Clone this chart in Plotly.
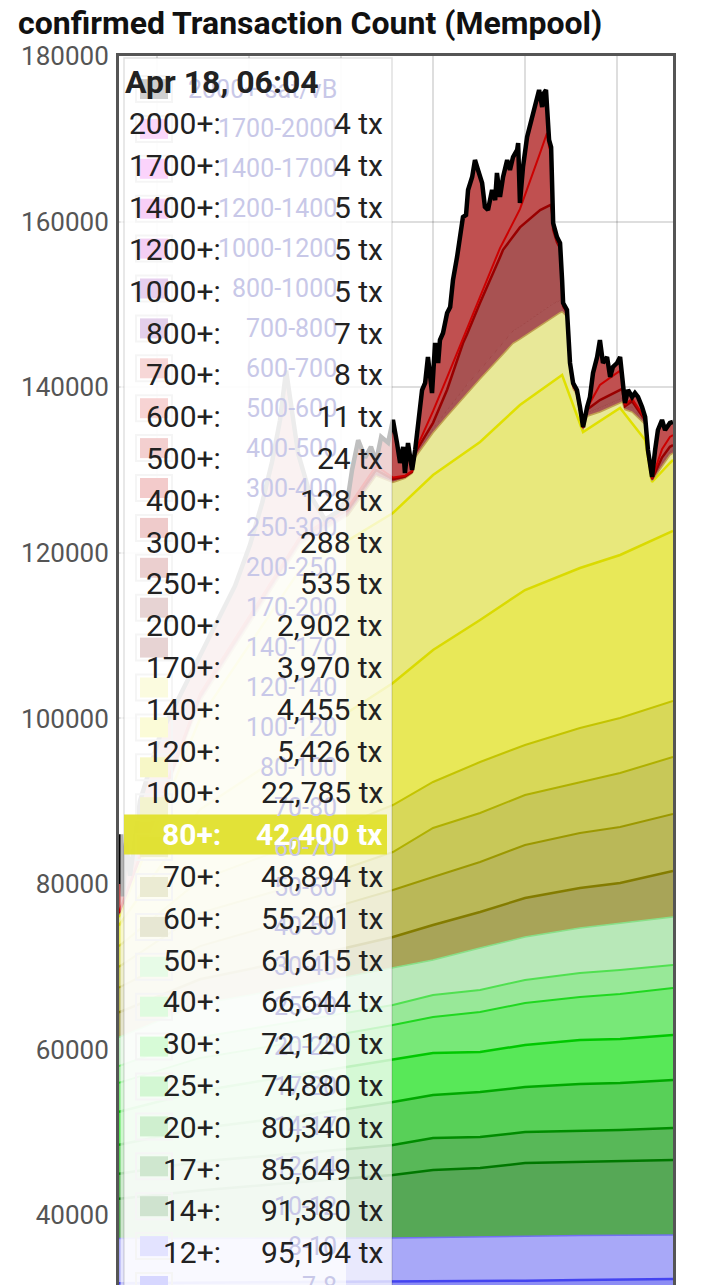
import plotly.graph_objects as go

TITLE = "confirmed Transaction Count (Mempool)"

# ---------------- data ----------------
# top of the stack (all fee bands)
t_total = [
    "2024-04-16 21:31", "2024-04-16 21:39", "2024-04-16 21:47", "2024-04-16 21:59", "2024-04-16 22:14",
    "2024-04-16 22:53", "2024-04-17 00:12", "2024-04-17 01:50", "2024-04-17 03:27", "2024-04-17 05:05",
    "2024-04-17 06:04", "2024-04-17 06:51", "2024-04-17 07:30", "2024-04-17 08:01", "2024-04-17 08:25",
    "2024-04-17 08:48", "2024-04-17 09:12", "2024-04-17 09:59", "2024-04-17 10:57", "2024-04-17 11:48",
    "2024-04-17 12:27", "2024-04-17 12:43", "2024-04-17 13:07", "2024-04-17 13:34", "2024-04-17 13:57",
    "2024-04-17 14:17", "2024-04-17 14:37", "2024-04-17 15:04", "2024-04-17 15:23", "2024-04-17 15:39",
    "2024-04-17 15:51", "2024-04-17 16:03", "2024-04-17 16:10", "2024-04-17 16:22", "2024-04-17 16:38",
    "2024-04-17 16:50", "2024-04-17 17:01", "2024-04-17 17:17", "2024-04-17 17:29", "2024-04-17 17:40",
    "2024-04-17 17:56", "2024-04-17 18:08", "2024-04-17 18:20", "2024-04-17 18:27", "2024-04-17 18:39",
    "2024-04-17 18:55", "2024-04-17 19:07", "2024-04-17 19:18", "2024-04-17 19:34", "2024-04-17 19:46",
    "2024-04-17 19:57", "2024-04-17 20:09", "2024-04-17 20:17", "2024-04-17 20:33", "2024-04-17 20:44",
    "2024-04-17 20:56", "2024-04-17 21:12", "2024-04-17 21:23", "2024-04-17 21:35", "2024-04-17 21:51",
    "2024-04-17 22:03", "2024-04-17 22:10", "2024-04-17 22:22", "2024-04-17 22:34", "2024-04-17 22:50",
    "2024-04-17 23:01", "2024-04-17 23:13", "2024-04-17 23:29", "2024-04-17 23:33", "2024-04-17 23:40",
    "2024-04-17 23:52", "2024-04-18 00:08", "2024-04-18 00:27", "2024-04-18 00:47", "2024-04-18 00:55",
    "2024-04-18 01:07", "2024-04-18 01:14", "2024-04-18 01:22", "2024-04-18 01:26", "2024-04-18 01:34",
    "2024-04-18 01:42", "2024-04-18 01:46", "2024-04-18 01:50", "2024-04-18 02:05", "2024-04-18 02:17",
    "2024-04-18 02:25", "2024-04-18 02:29", "2024-04-18 02:44", "2024-04-18 02:56", "2024-04-18 03:08",
    "2024-04-18 03:23", "2024-04-18 03:35", "2024-04-18 03:47", "2024-04-18 04:03", "2024-04-18 04:14",
    "2024-04-18 04:26", "2024-04-18 04:42", "2024-04-18 04:53", "2024-04-18 05:05", "2024-04-18 05:21",
    "2024-04-18 05:33", "2024-04-18 05:44", "2024-04-18 06:00", "2024-04-18 06:12", "2024-04-18 06:20",
    "2024-04-18 06:31", "2024-04-18 06:43", "2024-04-18 06:59", "2024-04-18 07:10", "2024-04-18 07:22",
    "2024-04-18 07:38", "2024-04-18 07:50", "2024-04-18 08:01", "2024-04-18 08:17", "2024-04-18 08:29",
    "2024-04-18 08:40", "2024-04-18 08:56", "2024-04-18 09:08", "2024-04-18 09:27", "2024-04-18 09:39",
]
total = [
    80000, 86000, 78500, 85000, 81000,
    90000, 98000, 104000, 110000, 116000,
    121000, 126000, 131000, 136000, 142000,
    137000, 132000, 127000, 124000, 125000,
    126700, 130000, 133600, 131500, 132800,
    131000, 134000, 133300, 136040, 133262,
    130847, 132779, 129639, 133262, 130001,
    132417, 135677, 139663, 140508, 143648,
    139301, 145339, 142924, 145701, 146547,
    148962, 149687, 152948, 155725, 158141,
    160556, 160798, 163817, 165387, 167440,
    166232, 164662, 161764, 161401, 163817,
    162609, 165870, 162971, 165387, 167440,
    166232, 167802, 168648, 169493, 162247,
    166595, 170218, 172633, 175048, 175894,
    173841, 175532, 175894, 173478, 169855,
    169010, 162971, 159831, 158141, 157416,
    152948, 150170, 149324, 142924, 140508,
    139663, 137610, 135194, 137610, 138817,
    141716, 143648, 145701, 142924, 143648,
    141233, 142441, 142924, 143648, 141233,
    138093, 139663, 138817, 139301, 138817,
    137610, 136402, 132417, 129156, 132417,
    134832, 136040, 134832, 135677, 135800,
]

# smooth lower band boundaries (cumulative tx count below each fee level)
t_smooth = ["2024-04-16 21:31", "2024-04-17 02:48", "2024-04-17 09:20", "2024-04-17 15:23",
            "2024-04-17 18:00", "2024-04-17 21:04", "2024-04-18 00:00", "2024-04-18 03:35",
            "2024-04-18 06:12", "2024-04-18 09:39"]
below_8 = [31800, 31850, 31900, 31936, 31990, 32050, 32100, 32180, 32240, 32298]
below_10 = [37200, 37200, 37230, 37250, 37300, 37400, 37491, 37550, 37580, 37612]
below_12 = [42000, 43000, 44000, 44858, 45462, 45704, 46308, 46429, 46550, 46671]
below_14 = [45000, 46500, 47500, 48481, 49327, 49448, 50051, 50172, 50293, 50535]
below_17 = [48500, 50500, 52000, 53675, 54520, 54882, 55486, 55848, 55969, 56332]
below_20 = [52500, 55000, 57000, 58747, 59592, 59713, 60558, 61162, 61283, 61766]
below_25 = [56000, 59000, 61000, 62974, 63940, 64544, 65631, 66355, 66718, 67442]
below_30 = [58000, 61500, 63500, 65389, 66597, 67201, 68409, 69254, 69616, 70220]
below_40 = [61500, 65500, 67700, 69858, 70824, 72273, 73602, 74689, 75292, 76017]
below_50 = [64500, 68500, 71000, 73602, 75051, 76621, 78312, 79519, 80123, 81572]
below_60 = [67500, 72500, 76000, 79278, 80848, 82659, 84712, 86162, 86886, 88456]
below_70 = [70000, 76500, 80000, 83867, 86766, 88577, 90751, 92321, 93408, 95340]
below_80 = [72500, 80500, 85000, 89543, 92321, 94736, 96789, 98843, 100050, 102103]
below_100 = [75000, 89000, 97000, 104277, 108263, 111886, 115509, 118166, 119736, 122634]

t_b120 = ["2024-04-16 21:31", "2024-04-17 02:48", "2024-04-17 09:20", "2024-04-17 15:23",
          "2024-04-17 18:00", "2024-04-17 21:04", "2024-04-17 23:40", "2024-04-18 02:25",
          "2024-04-18 03:47", "2024-04-18 06:12", "2024-04-18 07:50", "2024-04-18 08:17",
          "2024-04-18 09:27", "2024-04-18 09:39"]
below_120 = [76000, 100000, 118000, 124808, 129397, 133383, 137851, 141474,
             134590, 137489, 133624, 128552, 130847, 131209]

t_upper = [
    "2024-04-16 21:31", "2024-04-17 02:48", "2024-04-17 09:20", "2024-04-17 12:27", "2024-04-17 14:17",
    "2024-04-17 15:23", "2024-04-17 16:10",
    "2024-04-17 16:38", "2024-04-17 16:50", "2024-04-17 18:00", "2024-04-17 18:55", "2024-04-17 19:57",
    "2024-04-17 20:13", "2024-04-17 21:04", "2024-04-17 22:22", "2024-04-17 22:34", "2024-04-17 23:13",
    "2024-04-17 23:40", "2024-04-18 00:59", "2024-04-18 01:26", "2024-04-18 01:34", "2024-04-18 01:38",
    "2024-04-18 01:42", "2024-04-18 01:46", "2024-04-18 01:50", "2024-04-18 02:05", "2024-04-18 02:17",
    "2024-04-18 02:25", "2024-04-18 02:29", "2024-04-18 02:44", "2024-04-18 02:56", "2024-04-18 03:08",
    "2024-04-18 03:23", "2024-04-18 03:47", "2024-04-18 04:03", "2024-04-18 04:53", "2024-04-18 06:12",
    "2024-04-18 06:20", "2024-04-18 06:31", "2024-04-18 06:59", "2024-04-18 07:50", "2024-04-18 08:01",
    "2024-04-18 08:17", "2024-04-18 08:56", "2024-04-18 09:27", "2024-04-18 09:39",
]
below_140 = [76300, 102000, 121000, 124500, 129300, 128500, 129000, 129600, 131500, 134500,
             136500, 138700, 139300, 141000, 143600, 144000, 145300, 145800, 147400, 148000,
             148100, 148200, 148300, 148400, 148500, 148800, 149000, 149100, 149000, 148500,
             142000, 139800, 139000, 134900, 136500, 137000, 138070, 138200, 137300, 137000,
             135500, 131600, 128700, 130500, 131800, 132050]
below_170 = [76400, 102300, 121300, 124900, 129600, 128700, 129100, 129700, 131800, 135000,
             137200, 139700, 140300, 142100, 145000, 145400, 146800, 147300, 149000, 149600,
             149700, 149800, 149900, 150000, 150100, 150300, 150400, 150500, 149400, 148800,
             142300, 140000, 139200, 135000, 136900, 137500, 138550, 138700, 137500, 137600,
             135700, 131800, 128800, 130800, 132200, 132400]
below_200 = [76500, 102600, 121700, 125200, 130000, 128900, 129200, 129800, 132100, 135700,
             139700, 145300, 146400, 150200, 155700, 156600, 158200, 159300, 161400, 161800,
             161900, 162000, 161800, 161000, 159000, 157500, 156800, 152000, 149800, 149000,
             142700, 140200, 139400, 135100, 137300, 138450, 139620, 139800, 137700, 138300,
             136000, 132000, 128900, 131500, 132800, 133000]
below_250 = [76600, 103000, 122000, 125500, 130500, 129100, 129300, 129900, 132300, 137100,
             141200, 145900, 147100, 150900, 156800, 157500, 159800, 161500, 168300, 170700,
             169000, 168800, 168500, 162500, 159500, 158000, 157200, 152700, 150050, 149200,
             142850, 140300, 139550, 135150, 137500, 140270, 141990, 141000, 137900, 138600,
             136200, 132200, 129000, 132500, 134000, 134200]

# legend (behind the tooltip) and tooltip contents
legend_labels = ["2000+ sat/vB", "1700-2000", "1400-1700", "1200-1400", "1000-1200", "800-1000",
                 "700-800", "600-700", "500-600", "400-500", "300-400", "250-300", "200-250",
                 "170-200", "140-170", "120-140", "100-120", "80-100", "70-80", "60-70", "50-60",
                 "40-50", "30-40", "25-30", "20-25", "17-20", "14-17", "12-14", "10-12", "8-10", "7-8"]
legend_colors = ["#404040", "#f060f0", "#f050f0", "#e040e0", "#d040d0", "#a040c0",
                 "#9040b0", "#e06060", "#e05050", "#d04040", "#d03030", "#c03030", "#b04040",
                 "#a05050", "#a05050", "#f0f080", "#f0f060", "#e0e020", "#d0d040", "#c0c040",
                 "#b0b050", "#a0a050", "#a0f0a0", "#80f080", "#60f060", "#50e050", "#40c040",
                 "#40a040", "#409040", "#9090ff", "#6060ff"]
tip_time = "Apr 18, 06:04"
tip_labels = ["2000+", "1700+", "1400+", "1200+", "1000+", "800+", "700+", "600+", "500+",
              "400+", "300+", "250+", "200+", "170+", "140+", "120+", "100+", "80+", "70+",
              "60+", "50+", "40+", "30+", "25+", "20+", "17+", "14+", "12+"]
tip_counts = [4, 4, 5, 5, 5, 7, 8, 11, 24, 128, 288, 535, 2902, 3970, 4455, 5426, 22785,
              42400, 48894, 55201, 61615, 66644, 72120, 74880, 80340, 85649, 91380, 95194]
highlight = "80+"

# ---------------- figure ----------------
W, H = 720, 1285
L, R, T, B = 119, 47, 56, 0
PW, PH = W - L - R, H - T - B
FONT = "Roboto"

fig = go.Figure()

def band(name, x, y, fillcolor, linecolor, width, first=False):
    fig.add_trace(go.Scatter(
        x=x, y=y, name=name, mode="lines",
        line=dict(color=linecolor, width=width),
        fill="tozeroy" if first else "tonexty",
        fillcolor=fillcolor, hoverinfo="skip", showlegend=False))

band("7-8", t_smooth, below_8, "#8c8cf4", "#4444f0", 2.5, first=True)
band("8-10", t_smooth, below_10, "#a8a8f8", "#7070f0", 1.5)
band("10-12", t_smooth, below_12, "#56a856", "#007800", 2.5)
band("12-14", t_smooth, below_14, "#58b858", "#008c00", 2.5)
band("14-17", t_smooth, below_17, "#58d058", "#00a800", 2.5)
band("17-20", t_smooth, below_20, "#58e858", "#00c800", 2.5)
band("20-25", t_smooth, below_25, "#78e878", "#20d820", 2)
band("25-30", t_smooth, below_30, "#98e898", "#50e050", 2)
band("30-40", t_smooth, below_40, "#b8e8b8", "#88e088", 1.5)
band("40-50", t_smooth, below_50, "#a8a458", "#847c00", 2.5)
band("50-60", t_smooth, below_60, "#bab858", "#9c9800", 2)
band("60-70", t_smooth, below_70, "#c8c858", "#b0b000", 2)
band("70-80", t_smooth, below_80, "#d8d858", "#c4c400", 2)
band("80-100", t_smooth, below_100, "#e8e858", "#dada00", 2.5)
band("100-120", t_b120, below_120, "#e8e87c", "#e0e000", 2.5)
band("120-140", t_upper, below_140, "#e8e898", "#c0a050", 1.5)
band("140-170", t_upper, below_170, "#a85454", "#a04848", 1)
band("170-200", t_upper, below_200, "#a85252", "#990000", 2.5)
band("200-250", t_upper, below_250, "#c05050", "#cc0000", 2)
band("250+", t_total, total, "#c05050", "#000000", 4.5)

grid = "rgba(0,0,0,0.13)"
fig.update_xaxes(
    type="date", range=["2024-04-16 21:31", "2024-04-18 09:39"],
    side="top", showline=True, linecolor="#555555", linewidth=3,
    showgrid=True, gridcolor=grid, gridwidth=2,
    tick0="2024-04-17 00:00", dtick=6 * 3600 * 1000,
    showticklabels=False, ticks="", zeroline=False, layer="above traces",
    automargin=False)
fig.update_yaxes(
    range=[180000 - PH * 120.77, 180000], tick0=0, dtick=20000, tickformat="d",
    showline=True, mirror=True, linecolor="#555555", linewidth=3,
    showgrid=True, gridcolor=grid, gridwidth=2, zeroline=False,
    ticks="", ticklabelstandoff=2, layer="above traces", automargin=False,
    tickfont=dict(family=FONT, size=26, color="#555555"))

def px(x):
    return (x - L) / PW

def py(y):
    return (H - B - y) / PH

shapes = []
# legend background (semi-transparent)
shapes.append(dict(type="rect", xref="paper", yref="paper", layer="above",
                   x0=px(120.5), x1=px(346), y0=py(1300), y1=py(58),
                   fillcolor="rgba(255,255,255,0.7)", line=dict(width=0)))
ROW0, STEP = 89, 39.9
for i, c in enumerate(legend_colors):
    yc = ROW0 + STEP * i
    shapes.append(dict(type="rect", xref="paper", yref="paper", layer="above",
                       x0=px(136), x1=px(172), y0=py(yc + 13), y1=py(yc - 13),
                       fillcolor="rgba(255,255,255,0)", line=dict(color="#d8d8d8", width=2)))
    shapes.append(dict(type="rect", xref="paper", yref="paper", layer="above",
                       x0=px(140), x1=px(168), y0=py(yc + 10), y1=py(yc - 10),
                       fillcolor=c, line=dict(width=0)))
# tooltip background
shapes.append(dict(type="rect", xref="paper", yref="paper", layer="above",
                   x0=px(124), x1=px(392), y0=py(1300), y1=py(58),
                   fillcolor="rgba(255,255,255,0.75)",
                   line=dict(color="rgba(0,0,0,0.12)", width=1.5)))

TROW0, TSTEP = 124, 41.8
hi = tip_labels.index(highlight)
yh = TROW0 + TSTEP * hi
shapes.append(dict(type="rect", xref="paper", yref="paper", layer="above",
                   x0=px(124), x1=px(387), y0=py(yh + 20), y1=py(yh - 20),
                   fillcolor="rgba(224,224,40,0.93)", line=dict(width=0)))

ann = []
for i, lab in enumerate(legend_labels):
    yc = ROW0 + STEP * i
    ann.append(dict(xref="paper", yref="paper", x=px(339), y=py(yc), text=lab,
                    xanchor="right", yanchor="middle", showarrow=False,
                    font=dict(family=FONT, size=25, color="#c8c8e8")))
ann.append(dict(xref="paper", yref="paper", x=px(123), y=py(82), text=tip_time,
                xanchor="left", yanchor="middle", showarrow=False,
                font=dict(family=FONT, size=32, color="#222222", weight="bold")))
for i, (lab, n) in enumerate(zip(tip_labels, tip_counts)):
    yc = TROW0 + TSTEP * i
    is_hi = lab == highlight
    f = dict(family=FONT, size=30, color="#ffffff" if is_hi else "#222222",
             weight="bold" if is_hi else "normal")
    ann.append(dict(xref="paper", yref="paper", x=px(223), y=py(yc), text=lab + ":",
                    xanchor="right", yanchor="middle", showarrow=False, font=f))
    ann.append(dict(xref="paper", yref="paper", x=px(385), y=py(yc), text=f"{n:,} tx",
                    xanchor="right", yanchor="middle", showarrow=False, font=f))

fig.update_layout(
    template="none", width=W, height=H,
    margin=dict(l=L, r=R, t=T, b=B, pad=0),
    paper_bgcolor="#ffffff", plot_bgcolor="#ffffff",
    showlegend=False, hovermode=False,
    font=dict(family=FONT, color="#222222"),
    title=dict(text=TITLE, x=18 / W, xanchor="left", xref="container",
               y=1 - 23 / H, yanchor="middle", yref="container",
               font=dict(family=FONT, size=32, color="#111111", weight="bold")),
    shapes=shapes, annotations=ann)

fig.write_html("out.html", config={"displayModeBar": False},
               post_script="document.body.style.margin='0px';")
